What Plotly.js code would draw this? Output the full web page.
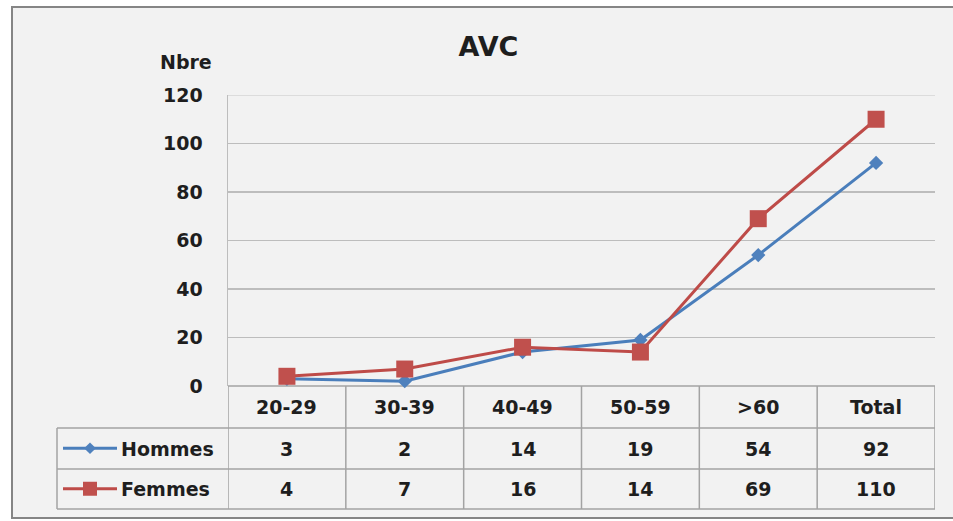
<!DOCTYPE html>
<html>
<head>
<meta charset="utf-8">
<script src="https://cdn.plot.ly/plotly-3.0.1.min.js"></script>
<style>
  html, body { margin: 0; padding: 0; background: #ffffff; }
  #chart { width: 953px; height: 521px; }
</style>
</head>
<body>
<div id="chart"></div>
<script>
// Stroke cases by age group
const categories = ['20-29', '30-39', '40-49', '50-59', '>60', 'Total'];
const hommes = [3, 2, 14, 19, 54, 92];
const femmes = [4, 7, 16, 14, 69, 110];
const seriesNames = ['Hommes', 'Femmes'];
const yTicks = [0, 20, 40, 60, 80, 100, 120];
const chartTitle = 'AVC';
const yLabel = 'Nbre';

// Page geometry (pixels) and helpers to turn pixels into paper fractions
const W = 953, H = 521;
const plotL = 228, plotR = 935, plotT = 95, plotB = 386;
const tableL = 57;
const rowEdges = [386, 428, 469, 509];
const fx = px => px / W;
const fy = py => 1 - py / H;

const FONT = 'DejaVu Sans';
const TEXT = '#1e1e1e';
const TABLE_LINE = '#a3a3a3';
const colors = {
  Hommes: { line: '#4a7ebb', marker: '#4f81bd', symbol: 'diamond', size: 11, keySize: 9 },
  Femmes: { line: '#be4b48', marker: '#c0504d', symbol: 'square', size: 17, keySize: 14 }
};
const seriesValues = { Hommes: hommes, Femmes: femmes };

const traces = [];

// Main lines
seriesNames.forEach(name => {
  const c = colors[name];
  traces.push({
    type: 'scatter', mode: 'lines+markers', name: name,
    x: categories, y: seriesValues[name],
    xaxis: 'x', yaxis: 'y', cliponaxis: false,
    line: { color: c.line, width: 3 },
    marker: { symbol: c.symbol, size: c.size, color: c.marker },
    showlegend: false
  });
});

// Legend keys drawn in the first column of the data table
const keyLineX = [63, 117];
const keyMarkX = [90];
seriesNames.forEach(name => {
  const c = colors[name];
  traces.push({
    type: 'scatter', mode: 'lines',
    x: keyLineX, y: keyLineX.map(() => name),
    xaxis: 'x2', yaxis: 'y2', cliponaxis: false,
    line: { color: c.line, width: 3 },
    showlegend: false
  });
  traces.push({
    type: 'scatter', mode: 'markers',
    x: keyMarkX, y: keyMarkX.map(() => name),
    xaxis: 'x2', yaxis: 'y2', cliponaxis: false,
    marker: { symbol: c.symbol, size: c.keySize, color: c.marker, opacity: 1 },
    showlegend: false
  });
});

const shapes = [];
// Chart frame
shapes.push({
  type: 'rect', xref: 'paper', yref: 'paper', layer: 'below',
  x0: fx(12), x1: fx(W + 10), y0: fy(518), y1: fy(7),
  fillcolor: '#f2f2f2', line: { color: '#858585', width: 2 }
});
// Lighter top border of the plot area at the axis maximum
shapes.push({
  type: 'line', xref: 'paper', yref: 'y', layer: 'above',
  x0: fx(plotL), x1: fx(plotR), y0: yTicks[yTicks.length - 1], y1: yTicks[yTicks.length - 1],
  line: { color: '#dcdcdc', width: 2 }
});
// Table horizontal rules
rowEdges.forEach((py, i) => {
  shapes.push({
    type: 'line', xref: 'paper', yref: 'paper', layer: 'below',
    x0: fx(i === 0 ? plotL : tableL), x1: fx(plotR), y0: fy(py), y1: fy(py),
    line: { color: TABLE_LINE, width: 1.5 }
  });
});
// Table column separators at category boundaries
for (let i = 0; i <= categories.length; i++) {
  shapes.push({
    type: 'line', xref: 'x', yref: 'paper', layer: 'below',
    x0: i - 0.5, x1: i - 0.5, y0: fy(rowEdges[0]), y1: fy(rowEdges[3]),
    line: { color: TABLE_LINE, width: 1.5 }
  });
}
// Left edge of the series-name column
shapes.push({
  type: 'line', xref: 'paper', yref: 'paper', layer: 'below',
  x0: fx(tableL), x1: fx(tableL), y0: fy(rowEdges[1]), y1: fy(rowEdges[3]),
  line: { color: TABLE_LINE, width: 1.5 }
});

const annotations = [];
const cellFont = { family: FONT, size: 19, color: TEXT, weight: 'bold' };
const rowMid = r => fy((rowEdges[r] + rowEdges[r + 1]) / 2);

// Header row: categories
categories.forEach(cat => {
  annotations.push({
    text: cat, x: cat, xref: 'x', y: rowMid(0), yref: 'paper',
    xanchor: 'center', yanchor: 'middle', showarrow: false, font: cellFont
  });
});
// Series rows: name + values
seriesNames.forEach((name, r) => {
  annotations.push({
    text: name, x: fx(119), xref: 'paper', y: rowMid(r + 1), yref: 'paper',
    xanchor: 'left', yanchor: 'middle', showarrow: false, font: cellFont
  });
  seriesValues[name].forEach((v, i) => {
    annotations.push({
      text: String(v), x: categories[i], xref: 'x', y: rowMid(r + 1), yref: 'paper',
      xanchor: 'center', yanchor: 'middle', showarrow: false, font: cellFont
    });
  });
});
// Y-axis caption
annotations.push({
  text: yLabel, x: fx(186), xref: 'paper', y: fy(62), yref: 'paper',
  xanchor: 'center', yanchor: 'middle', showarrow: false, font: cellFont
});

const layout = {
  width: W, height: H,
  margin: { l: 0, r: 0, t: 0, b: 0, pad: 0 },
  paper_bgcolor: '#ffffff',
  plot_bgcolor: 'rgba(0,0,0,0)',
  showlegend: false,
  hovermode: false,
  title: {
    text: chartTitle, xref: 'container', yref: 'container',
    x: 488.5 / W, y: fy(47), xanchor: 'center', yanchor: 'middle',
    font: { family: FONT, size: 27, color: TEXT, weight: 'bold' }
  },
  xaxis: {
    type: 'category', categoryarray: categories,
    domain: [fx(plotL), fx(plotR)], range: [-0.5, categories.length - 0.5],
    anchor: 'y', showgrid: false, zeroline: false, showline: false,
    showticklabels: false, ticks: ''
  },
  yaxis: {
    domain: [fy(plotB), fy(plotT)], range: [0, 120], anchor: 'x',
    tickvals: yTicks, ticktext: yTicks.map(String),
    showgrid: true, gridcolor: '#bdbdbd', gridwidth: 1.5,
    zeroline: false, showline: true, linecolor: '#bdbdbd', linewidth: 1.5,
    ticks: '', ticklabelstandoff: 20,
    tickfont: { family: FONT, size: 19, color: TEXT, weight: 'bold' }
  },
  xaxis2: {
    domain: [fx(tableL), fx(plotL)], range: [tableL, plotL], anchor: 'y2',
    visible: false, fixedrange: true
  },
  yaxis2: {
    type: 'category', categoryarray: seriesNames,
    domain: [fy(rowEdges[3]), fy(rowEdges[1])], range: [seriesNames.length - 0.5, -0.5],
    anchor: 'x2', visible: false, fixedrange: true
  },
  shapes: shapes,
  annotations: annotations
};

Plotly.newPlot('chart', traces, layout, { staticPlot: true, displayModeBar: false });
</script>
</body>
</html>
